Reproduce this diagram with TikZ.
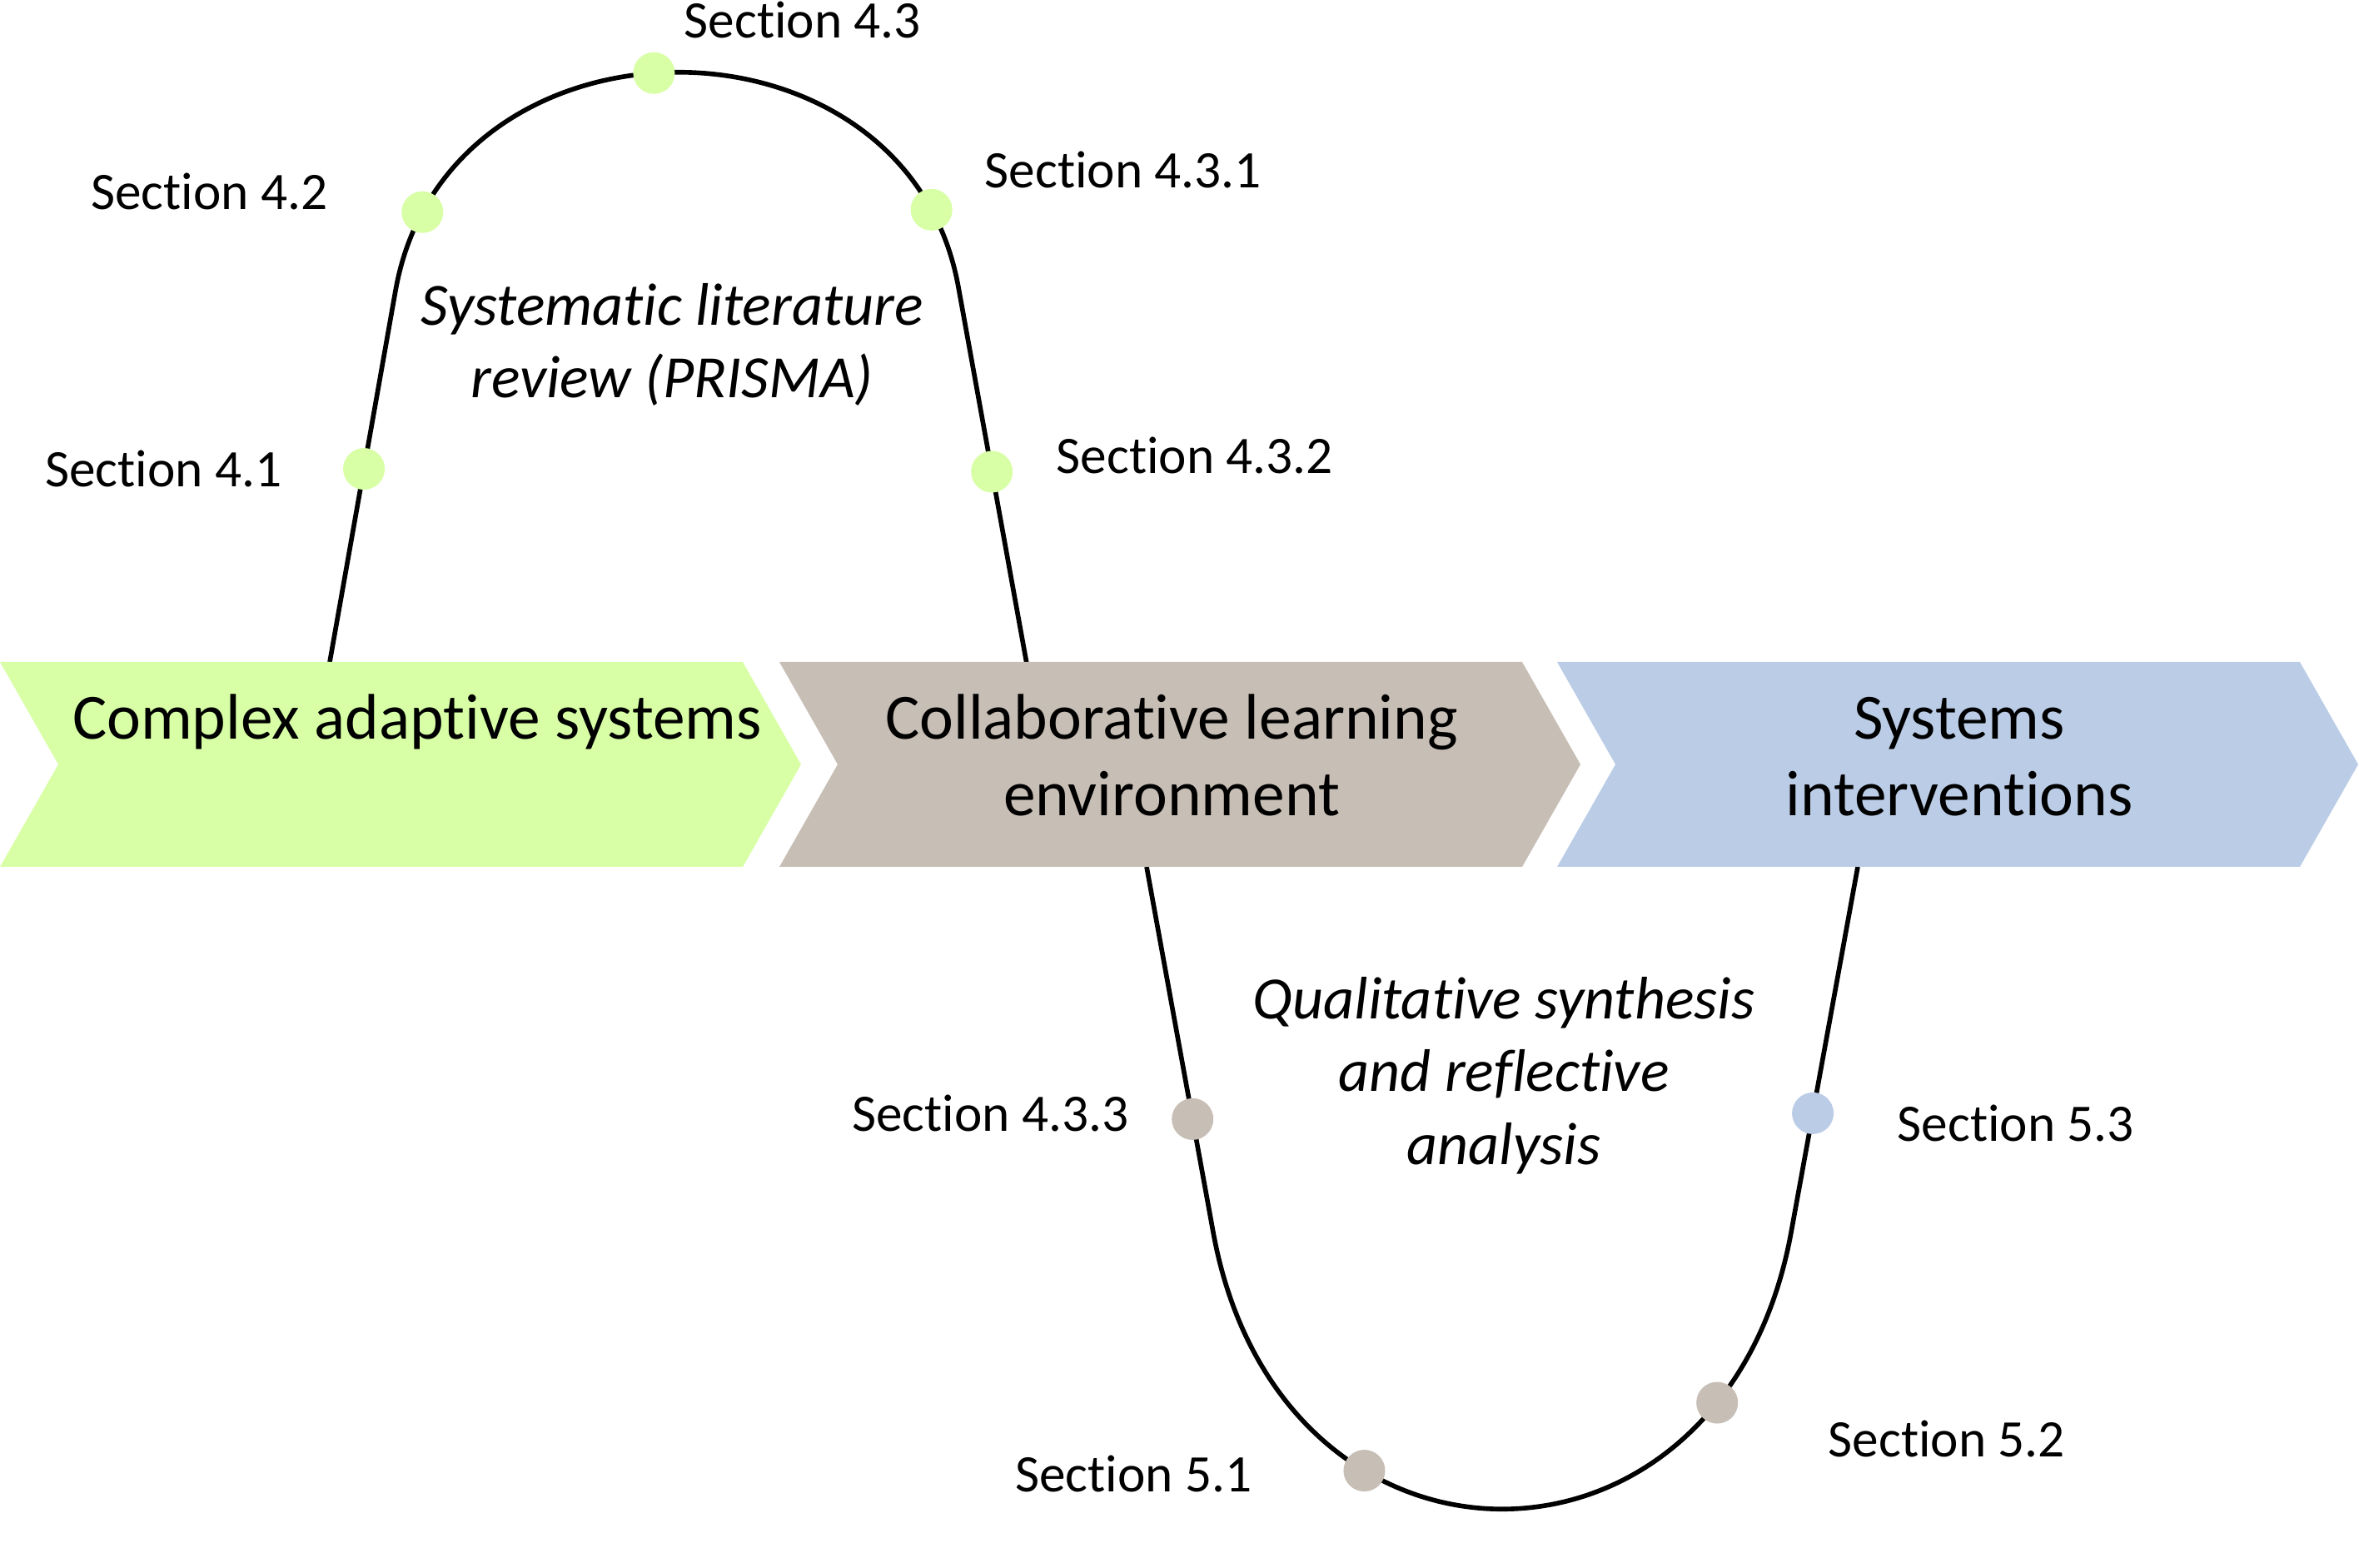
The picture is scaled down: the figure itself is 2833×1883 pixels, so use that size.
\documentclass[tikz,border=0pt]{standalone}
\usepackage{fontspec}
\setmainfont{Carlito}[Ligatures=NoCommon]
\usetikzlibrary{positioning}
\definecolor{casgreen}{RGB}{216,255,166}
\definecolor{clebrown}{RGB}{199,190,181}
\definecolor{sysblue}{RGB}{187,205,230}
\tikzset{
  chevtext/.style={font=\fontsize{22}{26.3}\selectfont, align=center, inner sep=0pt},
  methtext/.style={font=\fontsize{20.5}{24.8}\selectfont\itshape, align=center, inner sep=0pt},
  seclabel/.style={font=\fontsize{18}{21.6}\selectfont, inner sep=0pt},
  track/.style={line width=1.6pt, color=black},
  gdot/.style={circle, fill=casgreen, minimum size=0.5cm, inner sep=0pt},
  bdot/.style={circle, fill=clebrown, minimum size=0.5cm, inner sep=0pt},
  udot/.style={circle, fill=sysblue, minimum size=0.5cm, inner sep=0pt}
}

\begin{document}
\begin{tikzpicture}[x=0.01cm, y=-0.01cm]
  \useasboundingbox (0,0) rectangle (2833,1883);

  % Ends of the two loops
  \coordinate (casTop) at (396,795);
  \coordinate (cleTop) at (1233,797);
  \coordinate (cleBot) at (1377,1041);
  \coordinate (sysBot) at (2231,1041);
  \coordinate (upKneeL) at (475,349);
  \coordinate (upKneeR) at (1151,345);
  \coordinate (loKneeL) at (1457,1480);
  \coordinate (loKneeR) at (2151,1480);

  % Upper loop (literature review)
  \draw[track] (casTop) -- (upKneeL) node[gdot, pos=0.52] (d41) {}
    .. controls (537,0) and (1089,0) .. (upKneeR)
    node[gdot, pos=0.1] (d42) {} node[gdot, pos=0.47] (d43) {} node[gdot, pos=0.9] (d431) {}
    -- (cleTop) node[gdot, pos=0.49] (d432) {};

  % Lower loop (synthesis)
  \draw[track] (cleBot) -- (loKneeL) node[bdot, pos=0.69] (d433) {}
    .. controls (1538,1923) and (2070,1923) .. (loKneeR)
    node[bdot, pos=0.3136] (d51) {} node[bdot, pos=0.81] (d52) {}
    -- (sysBot) node[udot, pos=0.326] (d53) {};

  % Chevrons
  \foreach \x/\col in {0/casgreen, 936/clebrown, 1870/sysblue} {
    \fill[\col] (\x,795) -- ++(892,0) -- ++(70,123) -- ++(-70,123) -- ++(-892,0) -- ++(70,-123) -- cycle;
  }
  \node[chevtext, anchor=base] (cas) at (501,888) {Complex adaptive systems};
  \node[chevtext, anchor=base] (cle) at (1407,980) {Collaborative learning\\environment};
  \node[chevtext, anchor=base] (sys) at (2353,980) {Systems\\interventions};

  % Methods
  \node[methtext, anchor=base] (slr) at (807,478) {Systematic literature\\review (PRISMA)};
  \node[methtext, anchor=base] (qsr) at (1806,1398) {Qualitative synthesis\\and reflective\\analysis};

  % Section labels
  \node[seclabel, anchor=base east] (l41) at (339,585) {Section 4.1};
  \node[seclabel, anchor=base east] (l42) at (394,252) {Section 4.2};
  \node[seclabel, anchor=base west] (l43) at (821,46) {Section 4.3};
  \node[seclabel, anchor=base west] (l431) at (1182,226) {Section 4.3.1};
  \node[seclabel, anchor=base west] (l432) at (1268,569) {Section 4.3.2};
  \node[seclabel, anchor=base east] (l433) at (1356,1359) {Section 4.3.3};
  \node[seclabel, anchor=base east] (l51) at (1504,1791) {Section 5.1};
  \node[seclabel, anchor=base west] (l52) at (2195,1749) {Section 5.2};
  \node[seclabel, anchor=base west] (l53) at (2278,1370) {Section 5.3};
\end{tikzpicture}
\end{document}
